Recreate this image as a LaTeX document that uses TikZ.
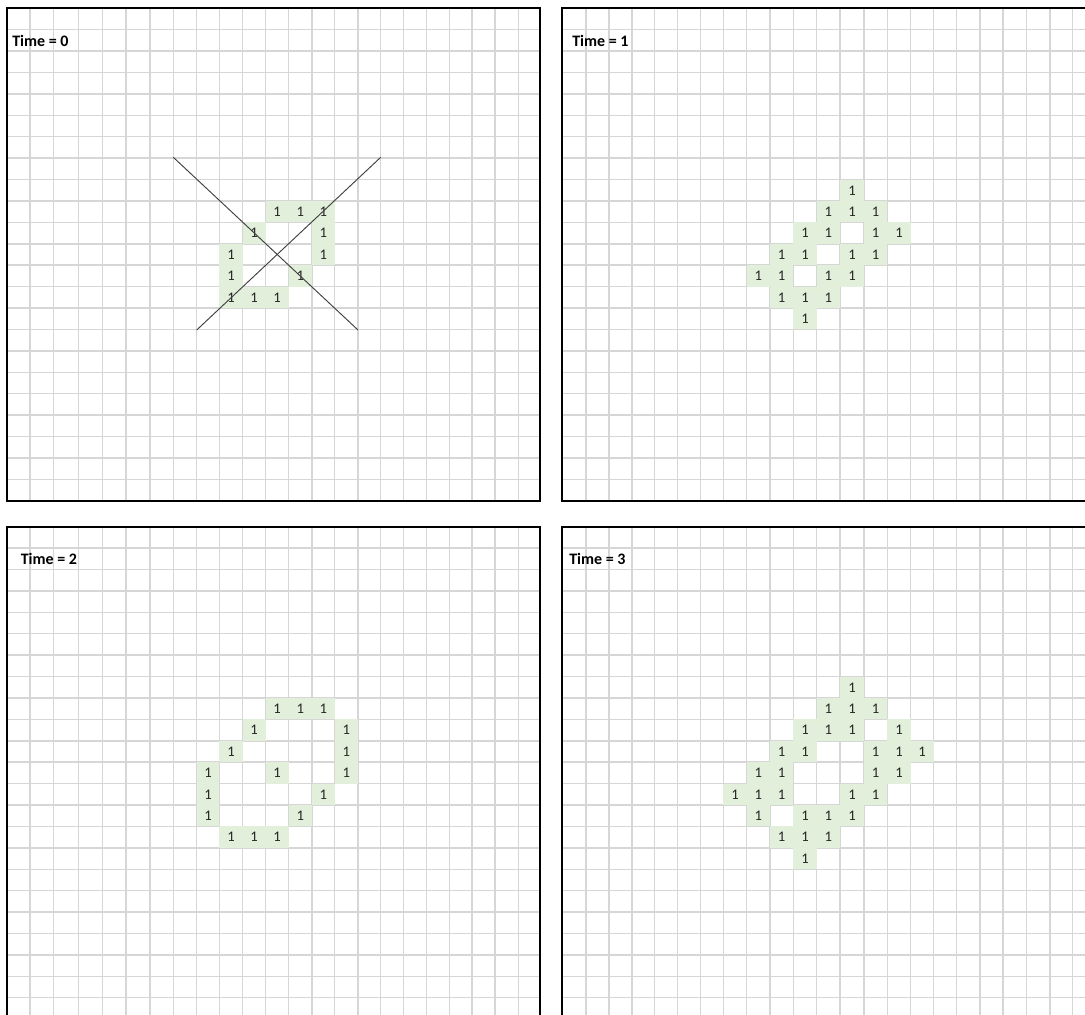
\documentclass[tikz,border=0pt]{standalone}
\usepackage{fontspec}
\setmainfont{Carlito}
\usetikzlibrary{positioning}

\definecolor{gridgray}{HTML}{D6D6D6}
\definecolor{livegreen}{HTML}{E2EFDA}

% column lines of the left and the right sheets
\def\colsleft{{7.3,30,53.3,78.3,102.3,126,150,173.3,196.7,219.3,242.7,265.7,288.7,312,334.7,358,380.7,403.6,426.4,449.3,472.2,495,518.3,540}}
\def\colsright{{562.3,586,608.9,631.8,654.6,677.5,700.4,723.3,746.7,770,793.3,816.7,840,864,887.3,910.7,933.7,956.7,980,1003,1026.3,1050,1072.7,1095.9}}

\begin{document}
\begin{tikzpicture}[x=0.75pt, y=-0.75pt,
    gridline/.style={draw=gridgray, line width=1.1pt},
    frame/.style={draw=black, line width=1.3pt},
    live/.style={fill=livegreen},
    one/.style={font=\fontsize{11}{13}\selectfont, text=black!85, inner sep=0pt},
    timelabel/.style={font=\fontsize{12}{14}\selectfont\bfseries, anchor=west, inner sep=0pt},
    cross/.style={draw=black!75, line width=0.7pt}]
    \clip (0,0) rectangle (1085,1014);
    \fill[white] (0,0) rectangle (1085,1014);

    % grids, live cells (column/row) and ones of the four steps
    \foreach \k/\cols/\oy/\cells in {
        0/\colsleft/8.3/{12/10,13/10,14/10,11/11,14/11,10/12,14/12,10/13,13/13,10/14,11/14,12/14},
        1/\colsright/8.3/{13/9,12/10,13/10,14/10,11/11,12/11,14/11,15/11,10/12,11/12,13/12,14/12,9/13,10/13,12/13,13/13,10/14,11/14,12/14,11/15},
        2/\colsleft/526.7/{12/9,13/9,14/9,11/10,15/10,10/11,15/11,9/12,12/12,15/12,9/13,14/13,9/14,13/14,10/15,11/15,12/15},
        3/\colsright/526.7/{13/8,12/9,13/9,14/9,11/10,12/10,13/10,15/10,10/11,11/11,14/11,15/11,16/11,9/12,10/12,14/12,15/12,8/13,9/13,10/13,13/13,14/13,9/14,11/14,12/14,13/14,10/15,11/15,12/15,11/16}} {
        \pgfmathsetmacro{\xa}{\cols[0]}
        \pgfmathsetmacro{\xb}{\cols[23]}
        \foreach \i in {1,...,23} {
            \pgfmathsetmacro{\xi}{\cols[\i]}
            \draw[gridline] (\xi, \oy) -- (\xi, {\oy+23*21.41});
        }
        \foreach \j in {1,...,23}
            \draw[gridline] (\xa, {\oy+\j*21.41}) -- (\xb, {\oy+\j*21.41});
        \foreach \c/\r in \cells {
            \pgfmathtruncatemacro{\cp}{\c-1}
            \pgfmathsetmacro{\xl}{\cols[\cp]}
            \pgfmathsetmacro{\xr}{\cols[\c]}
            \fill[live] (\xl, {\oy+(\r-1)*21.41}) rectangle (\xr, {\oy+\r*21.41});
            \node[one] (one\k-\c-\r) at ({(\xl+\xr)/2}, {\oy+(\r-0.5)*21.41}) {1};
        }
    }

    % frames
    \draw[frame] (7.3,8.3) rectangle (540,500.7);
    \draw[frame] (562.3,8.3) rectangle (1095,500.7);
    \draw[frame] (7.3,526.7) rectangle (540,1025);
    \draw[frame] (562.3,526.7) rectangle (1095,1025);

    % labels
    \node[timelabel] (time0) at (12,41) {Time = 0};
    \node[timelabel] (time1) at (572,41) {Time = 1};
    \node[timelabel] (time2) at (20.5,559) {Time = 2};
    \node[timelabel] (time3) at (569,559) {Time = 3};

    % the cross over step zero
    \coordinate (crossa) at (173.3, 157.3);
    \coordinate (crossb) at (358, 330);
    \coordinate (crossc) at (380.7, 157.3);
    \coordinate (crossd) at (196.7, 330);
    \draw[cross] (crossa) -- (crossb);
    \draw[cross] (crossc) -- (crossd);
\end{tikzpicture}
\end{document}
